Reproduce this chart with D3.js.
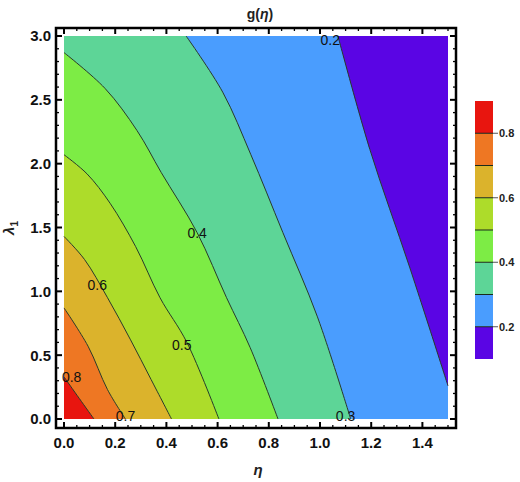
<!DOCTYPE html>
<html><head><meta charset="utf-8">
<script src="https://cdn.jsdelivr.net/npm/d3@7"></script>
<style>body{margin:0;background:#fff}</style></head>
<body><svg id="c" width="520" height="482"></svg>
<script>
// contour levels and their lines: [eta, lambda1]
const levels = [0.2, 0.3, 0.4, 0.5, 0.6, 0.7, 0.8];
const contour02 = [[1.07,3.0],[1.195,2.11],[1.35,1.19],[1.5,0.26]];
const contour03 = [[0.477,3.0],[0.62,2.56],[0.73,2.07],[0.855,1.46],[0.99,0.8],[1.12,0]];
const contour04 = [[0,2.87],[0.16,2.59],[0.285,2.26],[0.38,1.93],[0.52,1.46],[0.635,0.95],[0.727,0.56],[0.836,0]];
const contour05 = [[0,2.07],[0.09,1.92],[0.18,1.69],[0.28,1.35],[0.375,0.95],[0.48,0.6],[0.605,0]];
const contour06 = [[0,1.43],[0.08,1.25],[0.17,0.95],[0.26,0.62],[0.34,0.31],[0.42,0]];
const contour07 = [[0,0.87],[0.094,0.57],[0.17,0.23],[0.24,0]];
const contour08 = [[0,0.33],[0.06,0.16],[0.117,0]];
const contours = [contour02, contour03, contour04, contour05, contour06, contour07, contour08];
const bandColors = ["#5a05e4","#4a9dfe","#5dd597","#7dec45","#addc2a","#dbb32c","#ee7723","#e8150f"];
const legendEdges = [0.1,0.2,0.3,0.4,0.5,0.6,0.7,0.8,0.9];
const legendTicks = [0.2,0.4,0.6,0.8];
const xTicks = [0,0.2,0.4,0.6,0.8,1.0,1.2,1.4];
const yTicks = [0,0.5,1.0,1.5,2.0,2.5,3.0];
const contourLabels = [["0.8",0.03,0.33],["0.7",0.24,0.02],["0.6",0.13,1.05],["0.5",0.46,0.58],["0.4",0.52,1.46],["0.3",1.1,0.02],["0.2",1.04,2.97]];
const xDomain=[0,1.5], yDomain=[0,3];

const svg=d3.select("#c");
const x=d3.scaleLinear().domain(xDomain).range([64,448]);
const y=d3.scaleLinear().domain(yDomain).range([419,36]);
const fontB="'Liberation Sans',Arial,sans-serif";

svg.append("rect").attr("x",x(0)).attr("y",y(3)).attr("width",x(1.5)-x(0)).attr("height",y(0)-y(3)).attr("fill",bandColors[0]);
const line=d3.line().x(d=>x(d[0])).y(d=>y(d[1])).curve(d3.curveCatmullRom);
contours.forEach((c,i)=>{
  const pts=c.slice();
  const last=pts[pts.length-1];
  if(last[0]===xDomain[1]) pts.push([xDomain[1],0]);
  pts.push([0,0]);
  if(c[0][1]===yDomain[1] && c[0][0]>0) pts.push([0,yDomain[1]]);
  const d=line(c)+pts.slice(c.length).map(p=>"L"+x(p[0])+","+y(p[1])).join("")+"Z";
  svg.append("path").attr("d",d).attr("fill",bandColors[i+1]);
});
contours.forEach(c=>svg.append("path").attr("d",line(c)).attr("fill","none").attr("stroke","#2a3a2a").attr("stroke-width",1));
contourLabels.forEach(l=>svg.append("text").attr("x",x(l[1])).attr("y",y(l[2])).attr("dy","0.35em").attr("text-anchor","middle")
  .attr("font-family",fontB).attr("font-size",14).attr("fill","#111").text(l[0]));

// frame
svg.append("rect").attr("x",56).attr("y",28).attr("width",400).attr("height",400).attr("fill","none").attr("stroke","#000").attr("stroke-width",2.5);
const g=svg.append("g").attr("stroke","#000");
d3.range(0,1.5001,0.05).forEach(v=>{
  const maj=Math.abs(v*5-Math.round(v*5))<1e-6, L=maj?6:3;
  g.append("line").attr("x1",x(v)).attr("x2",x(v)).attr("y1",428).attr("y2",428-L).attr("stroke-width",maj?2:1.3);
  g.append("line").attr("x1",x(v)).attr("x2",x(v)).attr("y1",28).attr("y2",28+L).attr("stroke-width",maj?2:1.3);
});
d3.range(0,3.0001,0.1).forEach(v=>{
  const maj=Math.abs(v*2-Math.round(v*2))<1e-6, L=maj?6:3;
  g.append("line").attr("y1",y(v)).attr("y2",y(v)).attr("x1",56).attr("x2",56+L).attr("stroke-width",maj?2:1.3);
  g.append("line").attr("y1",y(v)).attr("y2",y(v)).attr("x1",456).attr("x2",456-L).attr("stroke-width",maj?2:1.3);
});
xTicks.forEach(v=>svg.append("text").attr("x",x(v)).attr("y",448).attr("text-anchor","middle").attr("font-family",fontB)
  .attr("font-weight","bold").attr("font-size",15).attr("fill","#111").text(v.toFixed(1)));
yTicks.forEach(v=>svg.append("text").attr("x",51).attr("y",y(v)).attr("dy","0.36em").attr("text-anchor","end").attr("font-family",fontB)
  .attr("font-weight","bold").attr("font-size",15).attr("fill","#111").text(v.toFixed(1)));

// titles
const t=svg.append("text").attr("x",260).attr("y",19).attr("text-anchor","middle").attr("font-family",fontB).attr("font-weight","bold").attr("font-size",14).attr("fill","#222");
t.append("tspan").text("g(");t.append("tspan").attr("font-style","italic").text("η");t.append("tspan").text(")");
svg.append("text").attr("x",258).attr("y",475).attr("text-anchor","middle").attr("font-family",fontB).attr("font-weight","bold").attr("font-style","italic").attr("font-size",15).attr("fill","#222").text("η");
const yl=svg.append("text").attr("transform","translate(14,228) rotate(-90)").attr("text-anchor","middle").attr("font-family",fontB).attr("font-weight","bold").attr("font-size",15).attr("fill","#222");
yl.append("tspan").attr("font-style","italic").text("λ");yl.append("tspan").attr("font-size",10).attr("dy",4).text("1");

// legend
const ly=d3.scaleLinear().domain([0.1,0.9]).range([359,101]);
for(let i=0;i<bandColors.length;i++){
  svg.append("rect").attr("x",475).attr("y",ly(legendEdges[i+1])).attr("width",18).attr("height",ly(legendEdges[i])-ly(legendEdges[i+1])).attr("fill",bandColors[i]);
}
legendEdges.slice(1,-1).forEach(v=>svg.append("line").attr("x1",475).attr("x2",493).attr("y1",ly(v)).attr("y2",ly(v)).attr("stroke","#1a2a1a").attr("stroke-width",1));
legendTicks.forEach(v=>{
  svg.append("line").attr("x1",493).attr("x2",498).attr("y1",ly(v)).attr("y2",ly(v)).attr("stroke","#555");
  svg.append("text").attr("x",499).attr("y",ly(v)).attr("dy","0.35em").attr("font-family",fontB).attr("font-weight","bold").attr("font-size",11).attr("fill","#222").text(v.toFixed(1));
});
</script></body></html>
